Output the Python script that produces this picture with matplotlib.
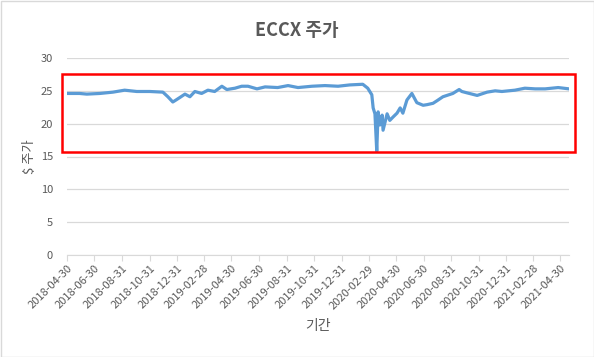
#!/usr/bin/env python3
# -*- coding: utf-8 -*-
"""
ECCX price chart, Excel style.
"""

import matplotlib
matplotlib.use("Agg")
import matplotlib.pyplot as plt
import matplotlib.patches as patches
import pandas            as pd

#-------------------------------------------------------------------------------------------------
# %% ENVIRONMENT SETUP SECTION

plt.rcParams['font.family'] = ['Noto Sans CJK KR', 'DejaVu Sans']

#-------------------------------------------------------------------------------------------------
# %% CONSTANTS DEFINITION SECTION

TEXTCOLOR = '#595959'
GRIDCOLOR = '#d9d9d9'
LINECOLOR = '#5b9bd5'
OUTFILENAME = 'out.png'

#-------------------------------------------------------------------------------------------------
# %% DATA

price_dates = [
    '2018-04-30', '2018-05-28', '2018-06-13', '2018-07-12', '2018-08-10', '2018-09-05',
    '2018-10-02', '2018-10-31', '2018-11-29', '2018-12-10', '2018-12-21', '2018-12-28',
    '2019-01-06', '2019-01-17', '2019-01-28', '2019-02-08', '2019-02-23', '2019-03-09',
    '2019-03-24', '2019-04-09', '2019-04-20', '2019-05-08', '2019-05-23', '2019-06-06',
    '2019-06-26', '2019-07-14', '2019-08-11', '2019-09-03', '2019-09-25', '2019-10-26',
    '2019-11-24', '2019-12-23', '2020-01-18', '2020-02-16', '2020-02-27', '2020-03-07',
    '2020-03-10', '2020-03-14', '2020-03-18', '2020-03-21', '2020-03-25', '2020-03-30',
    '2020-04-01', '2020-04-10', '2020-04-16', '2020-04-23', '2020-05-02', '2020-05-09',
    '2020-05-15', '2020-05-24', '2020-06-04', '2020-06-15', '2020-06-29', '2020-07-08',
    '2020-07-21', '2020-07-30', '2020-08-12', '2020-09-03', '2020-09-17', '2020-09-23',
    '2020-10-04', '2020-10-27', '2020-11-18', '2020-12-06', '2020-12-21', '2021-01-19',
    '2021-02-10', '2021-03-05', '2021-03-27', '2021-04-25', '2021-05-19']

price_values = [
    24.6, 24.6, 24.5, 24.6, 24.8, 25.1,
    24.9, 24.9, 24.8, 24.1, 23.3, 23.6,
    24.0, 24.5, 24.1, 24.9, 24.6, 25.1,
    24.9, 25.7, 25.2, 25.4, 25.7, 25.7,
    25.3, 25.6, 25.5, 25.8, 25.5, 25.7,
    25.8, 25.7, 25.9, 26.0, 25.4, 24.4,
    22.4, 21.5, 15.8, 21.8, 19.8, 21.3,
    19.0, 21.5, 20.5, 21.0, 21.6, 22.4,
    21.6, 23.6, 24.6, 23.2, 22.8, 22.9,
    23.1, 23.5, 24.1, 24.6, 25.2, 24.9,
    24.7, 24.3, 24.8, 25.0, 24.9, 25.1,
    25.4, 25.3, 25.3, 25.5, 25.3]

tick_labels = [
    '2018-04-30', '2018-06-30', '2018-08-31', '2018-10-31', '2018-12-31',
    '2019-02-28', '2019-04-30', '2019-06-30', '2019-08-31', '2019-10-31',
    '2019-12-31', '2020-02-29', '2020-04-30', '2020-06-30', '2020-08-31',
    '2020-10-31', '2020-12-31', '2021-02-28', '2021-04-30']

y_ticks = [0, 5, 10, 15, 20, 25, 30]

#-------------------------------------------------------------------------------------------------
# %% PLOT

df = pd.DataFrame({'date': pd.to_datetime(price_dates), 'price': price_values})
tick_dates = pd.to_datetime(tick_labels)

fig = plt.figure(figsize=(5.94, 3.57), dpi=100)
ax = fig.add_axes([67/594, 102/357, 502/594, 197/357])

ax.plot(df['date'], df['price'], color=LINECOLOR, linewidth=2.3, solid_joinstyle='round')

ax.set_ylim(0, 30)
ax.set_yticks(y_ticks)
ax.set_xlim(pd.Timestamp('2018-04-30'), pd.Timestamp('2021-05-19'))
ax.set_xticks(tick_dates)
ax.set_xticklabels(tick_labels, rotation=45, ha='right', rotation_mode='anchor')

ax.grid(axis='y', color=GRIDCOLOR, linewidth=0.9)
ax.set_axisbelow(True)
for side in ['top', 'right', 'left']:
    ax.spines[side].set_visible(False)
ax.spines['bottom'].set_color(GRIDCOLOR)
ax.tick_params(axis='x', colors=GRIDCOLOR, length=4, labelcolor=TEXTCOLOR, labelsize=8, pad=2)
ax.tick_params(axis='y', length=0, labelcolor=TEXTCOLOR, labelsize=8, pad=10)

# title is centred on the whole chart, not on the plot area
fig.text(0.5, 1 - 30/357, 'ECCX 주가', color=TEXTCOLOR, fontsize=13, fontweight='bold',
         ha='center', va='center')
ax.set_ylabel('$ 주가', color=TEXTCOLOR, fontsize=9.5)
ax.yaxis.set_label_coords((36 - 67)/502, 0.5)
ax.set_xlabel('기간', color=TEXTCOLOR, fontsize=10, labelpad=6)

# red highlight box round the price band
fig.patches.append(patches.Rectangle((62/594, 1 - 152/357), 513/594, 78/357,
                                     transform=fig.transFigure, fill=False,
                                     edgecolor='#ff0000', linewidth=1.8))
# light chart border
fig.patches.append(patches.Rectangle((0.5/594, 0.5/357), 593/594, 356/357,
                                     transform=fig.transFigure, fill=False,
                                     edgecolor=GRIDCOLOR, linewidth=1.0))

fig.savefig(OUTFILENAME, dpi=100)
